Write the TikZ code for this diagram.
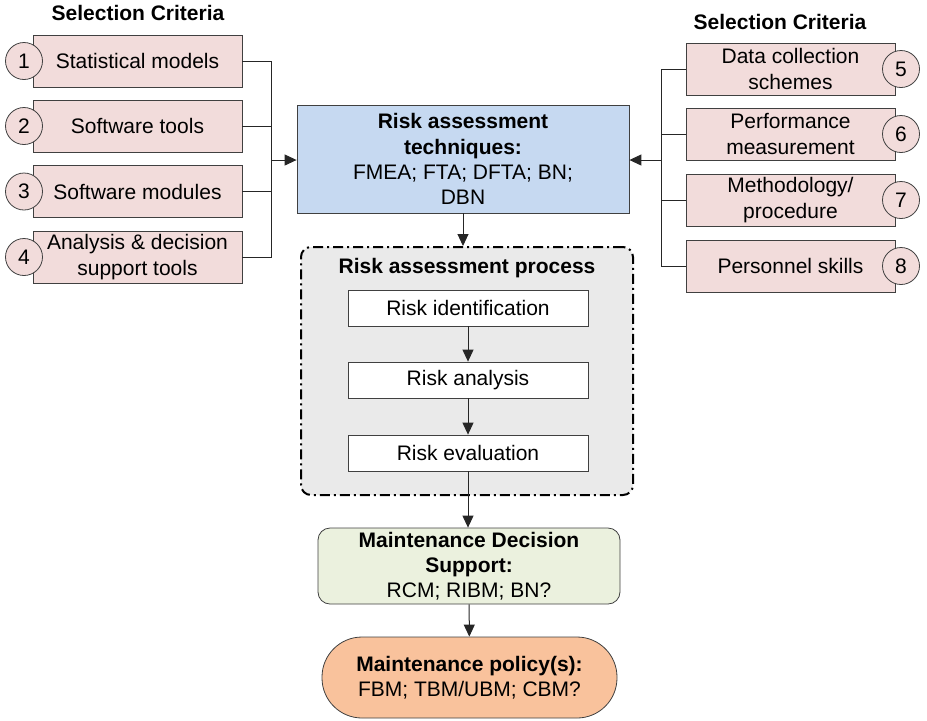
\documentclass[tikz,border=0pt]{standalone}
\usepackage{fontspec}
\setmainfont{Liberation Sans}
\usepackage{xcolor}
\usetikzlibrary{arrows.meta,positioning,calc}
\definecolor{critfill}{HTML}{F2DCDB}
\definecolor{techfill}{HTML}{C6D9F1}
\definecolor{procfill}{HTML}{EAEAEA}
\definecolor{decfill}{HTML}{EBF1DE}
\definecolor{polfill}{HTML}{F9C29C}
\definecolor{edgegray}{HTML}{404040}
\begin{document}
\begin{tikzpicture}[x=0.5pt,y=-0.5pt,
      every node/.style={font=\fontsize{10.5}{12.6}\selectfont},
      crit/.style={draw=edgegray,fill=critfill,minimum width=104.5pt,minimum height=26pt,align=center,inner sep=1pt},
      num/.style={circle,draw=edgegray,fill=critfill,minimum size=18.5pt,inner sep=0pt},
      plainbox/.style={draw=edgegray,fill=white,minimum width=120pt,minimum height=18pt,inner sep=1pt},
      link/.style={draw=black!85,line width=0.5pt},
      arrow/.style={link,-{Triangle[length=6pt,width=5.5pt]}}]
    \useasboundingbox (0,0) rectangle (927,720);
    % selection criteria, left
    \node[font=\fontsize{10.5}{12.6}\selectfont\bfseries] (titleL) at (138,13) {Selection Criteria};
    \foreach \i/\y/\txt in {1/61/Statistical models,2/126/Software tools,3/191.5/Software modules,4/257/{Analysis \& decision\\support tools}} {
      \node[crit] (crit\i) at (137.5,\y) {\txt};
      \node[num] (num\i) at (24,\y) {\i};
    }
    % selection criteria, right
    \node[font=\fontsize{10.5}{12.6}\selectfont\bfseries] (titleR) at (780,22) {Selection Criteria};
    \foreach \i/\y/\txt in {5/69/{Data collection\\schemes},6/134/{Performance\\measurement},7/200/{Methodology/\\procedure},8/266/Personnel skills} {
      \node[crit] (crit\i) at (790.5,\y) {\txt};
      \node[num] (num\i) at (901,\y) {\i};
    }
    % techniques
    \node[draw=edgegray,fill=techfill,minimum width=166pt,minimum height=54pt,align=center,inner sep=1pt] (tech) at (463,159)
      {\textbf{Risk assessment}\\\textbf{techniques:}\\FMEA; FTA; DFTA; BN;\\DBN};
    \coordinate (jl) at (271,160);
    \coordinate (jr) at (661,160);
    \foreach \i in {1,...,4} {
      \draw[link] (crit\i.east) -| (jl);
    }
    \foreach \i in {5,...,8} {
      \draw[link] (crit\i.west) -| (jr);
    }
    \draw[arrow] (jl) -- (jl -| tech.west);
    \draw[arrow] (jr) -- (jr -| tech.east);
    % process
    \node[draw=black,fill=procfill,line width=1pt,rounded corners=5pt,
          dash pattern=on 5pt off 2pt on 1pt off 2pt,
          minimum width=166pt,minimum height=124pt] (proc) at (467,371) {};
    \node[font=\fontsize{10.5}{12.6}\selectfont\bfseries] (proctitle) at (467,268) {Risk assessment process};
    \node[plainbox] (ident) at (468,308) {Risk identification};
    \node[plainbox] (anal) at (468,380) {Risk analysis};
    \node[plainbox] (eval) at (468,453) {Risk evaluation};
    \draw[arrow] (tech.south) -- (tech.south |- proc.north);
    \draw[arrow] (ident) -- (anal);
    \draw[arrow] (anal) -- (eval);
    % decision support and policy
    \node[draw=edgegray,fill=decfill,rounded corners=6pt,minimum width=151pt,minimum height=38pt,align=center,inner sep=1pt] (dec) at (469,566)
      {\textbf{Maintenance Decision}\\\textbf{Support:}\\RCM; RIBM; BN?};
    \node[draw=edgegray,fill=polfill,rounded corners=20pt,minimum width=147.5pt,minimum height=40.5pt,align=center,inner sep=1pt] (pol) at (469.5,677.5)
      {\textbf{Maintenance policy(s):}\\FBM; TBM/UBM; CBM?};
    \draw[arrow] (eval.south) -- (eval.south |- dec.north);
    \draw[arrow] (dec) -- (pol);
\end{tikzpicture}
\end{document}
